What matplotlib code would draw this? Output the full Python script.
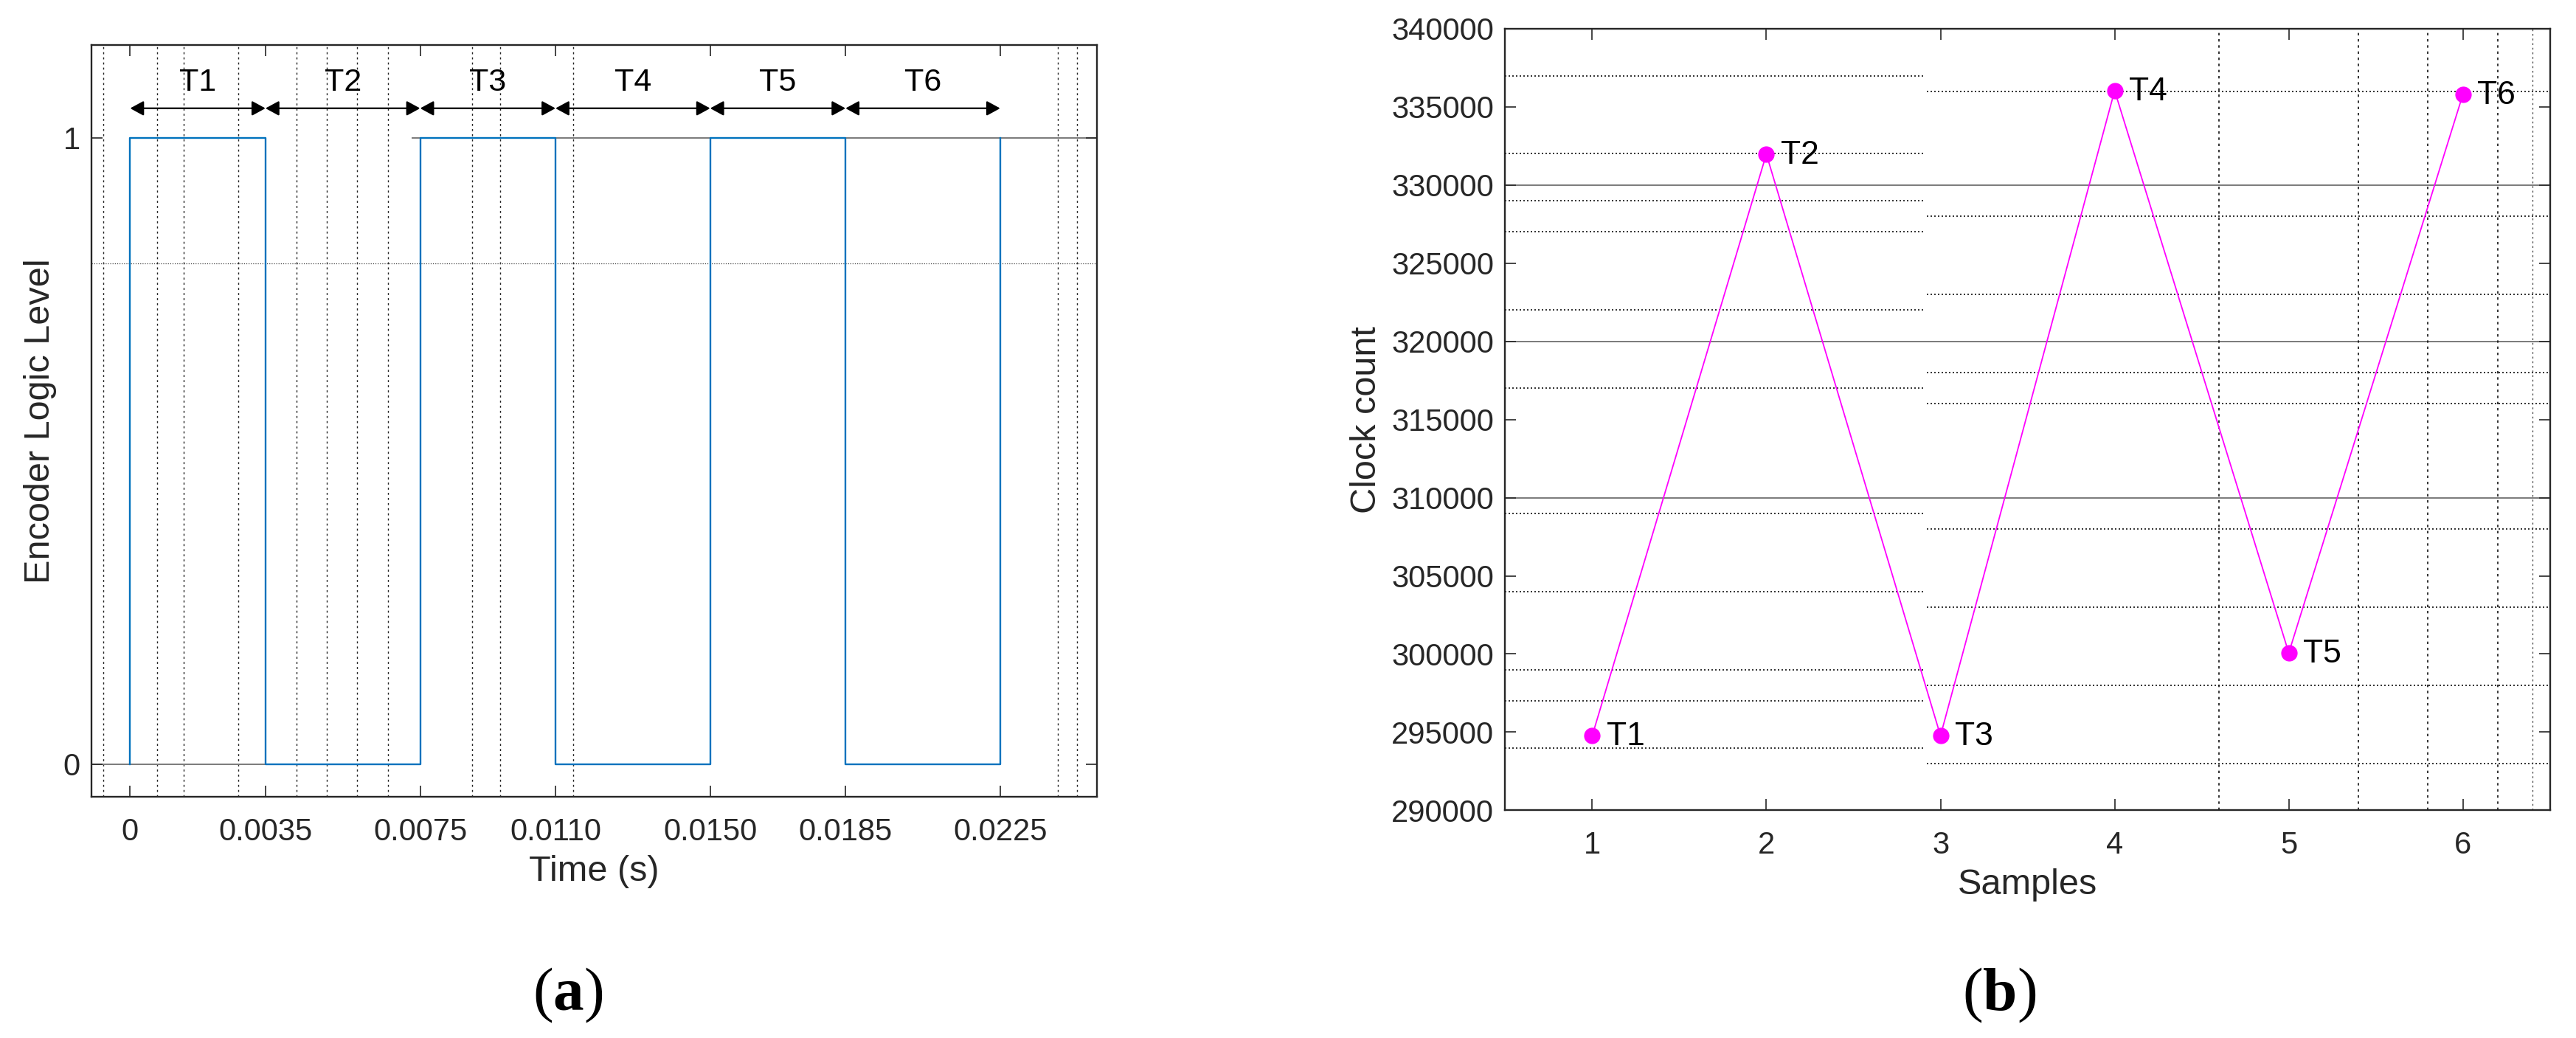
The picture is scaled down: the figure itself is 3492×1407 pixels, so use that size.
import matplotlib
matplotlib.use("Agg")
import matplotlib.pyplot as plt

# ---------------- data ----------------
# Panel (a): encoder square wave
edge_times = [0.0, 0.0035, 0.0075, 0.0110, 0.0150, 0.0185, 0.0225]
wave_t = [0.0, 0.0, 0.0035, 0.0035, 0.0075, 0.0075, 0.0110, 0.0110, 0.0150, 0.0150, 0.0185, 0.0185, 0.0225, 0.0225]
wave_v = [0, 1, 1, 0, 0, 1, 1, 0, 0, 1, 1, 0, 0, 1]
xtick_a = [0.0, 0.0035, 0.0075, 0.0110, 0.0150, 0.0185, 0.0225]
xtick_a_labels = ["0", "0.0035", "0.0075", "0.0110", "0.0150", "0.0185", "0.0225"]
ytick_a = [0, 1]
period_labels = ["T1", "T2", "T3", "T4", "T5", "T6"]
# dotted artefact grid lines visible in the original picture
vgrid_a = [-0.00069, 0.0007, 0.00139, 0.0028, 0.0043, 0.00508, 0.00587, 0.00666,
           0.00885, 0.00956, 0.01146, 0.0240, 0.02448]

# Panel (b): clock counts per sample
samples = [1, 2, 3, 4, 5, 6]
clock_count = [294770, 331980, 294770, 336040, 300070, 335800]
ytick_b = [290000, 295000, 300000, 305000, 310000, 315000, 320000, 325000, 330000, 335000, 340000]
hgrid_b_left = [337000, 332000, 329000, 327000, 322000, 317000, 309000, 304000, 299000, 297000, 294000]
hgrid_b_right = [336000, 328000, 323000, 318000, 316000, 308000, 303000, 298000, 293000]
hgrid_b_full = [330000, 320000, 310000]
vgrid_b = [4.6, 5.4, 5.8, 6.2]
vgrid_b_light = [6.4]

# ---------------- style ----------------
plt.rcParams['font.family'] = ['Liberation Sans', 'DejaVu Sans']
plt.rcParams['mathtext.fontset'] = 'custom'
plt.rcParams['mathtext.bf'] = 'Liberation Serif:bold'
plt.rcParams['mathtext.rm'] = 'Liberation Serif'
AX = '#262626'
BLUE = '#0072BD'
MAG = '#FF00FF'
TICK_FS = 30
LAB_FS = 35

fig = plt.figure(figsize=(34.92, 14.07), dpi=100)
axa = fig.add_axes([0.0355, 0.2324, 0.3903, 0.7242])
axb = fig.add_axes([0.5843, 0.2194, 0.4056, 0.7529])


def style_axes(ax):
    for s in ax.spines.values():
        s.set_color(AX)
        s.set_linewidth(1.7)
    ax.tick_params(direction='in', length=11, width=1.2, color=AX,
                   top=True, right=True, labelsize=TICK_FS, labelcolor=AX)
    ax.tick_params(axis='x', pad=20)
    ax.tick_params(axis='y', pad=11)


# ---------------- panel (a) ----------------
axa.set_xlim(-0.001, 0.025)
axa.set_ylim(-0.052, 1.148)
for xv in vgrid_a:
    axa.axvline(xv, color='#222222', lw=1.0, ls=(0, (2, 3)), zorder=1)
axa.axhline(0.8, color='#444444', lw=0.9, ls=(0, (1, 1.5)), zorder=1)
axa.plot([0.0073, 0.025], [1, 1], color='#7a7a7a', lw=1.4, zorder=1)
axa.plot([-0.001, 0.0035], [0, 0], color='#7a7a7a', lw=1.4, zorder=1)
axa.plot(wave_t, wave_v, color=BLUE, lw=1.7, zorder=3)

arrow_y = 1.047
label_y = 1.088
for i in range(len(edge_times) - 1):
    t0, t1 = edge_times[i], edge_times[i + 1]
    axa.annotate('', xy=(t1, arrow_y), xytext=(t0, arrow_y),
                 arrowprops=dict(arrowstyle='<|-|>,head_length=0.55,head_width=0.3',
                                 color='black', lw=1.7, shrinkA=0, shrinkB=0,
                                 mutation_scale=20), zorder=4)
    axa.text((t0 + t1) / 2, label_y, period_labels[i], ha='center', va='center',
             fontsize=31, color='black', zorder=4)

axa.set_xticks(xtick_a)
axa.set_xticklabels(xtick_a_labels)
axa.set_yticks(ytick_a)
axa.set_xlabel('Time (s)', fontsize=LAB_FS, color=AX, labelpad=8)
axa.set_ylabel('Encoder Logic Level', fontsize=LAB_FS, color=AX, labelpad=6)
style_axes(axa)

# ---------------- panel (b) ----------------
axb.set_xlim(0.5, 6.5)
axb.set_ylim(290000, 340000)
for yv in hgrid_b_left:
    axb.plot([0.5, 2.913], [yv, yv], color='#111111', lw=1.2, ls=(0, (1.2, 1.8)), zorder=1)
for yv in hgrid_b_right:
    axb.plot([2.923, 6.5], [yv, yv], color='#111111', lw=1.2, ls=(0, (1.2, 1.8)), zorder=1)
for yv in hgrid_b_full:
    axb.axhline(yv, color='#7a7a7a', lw=1.4, zorder=1)
for xv in vgrid_b:
    axb.axvline(xv, color='#111111', lw=1.2, ls=(0, (2, 3)), zorder=1)
for xv in vgrid_b_light:
    axb.axvline(xv, color='#444444', lw=0.9, ls=(0, (2, 3)), zorder=1)

axb.plot(samples, clock_count, color=MAG, lw=1.3, marker='o', markersize=15,
         markerfacecolor=MAG, markeredgecolor=MAG, zorder=3)
for i, (sx, sy) in enumerate(zip(samples, clock_count)):
    axb.annotate(period_labels[i], xy=(sx, sy), xytext=(14, -1),
                 textcoords='offset points', ha='left', va='center',
                 fontsize=32, color='black', zorder=4)

axb.set_xticks(samples)
axb.set_yticks(ytick_b)
axb.set_yticklabels([str(v) for v in ytick_b])
axb.set_xlabel('Samples', fontsize=LAB_FS, color=AX, labelpad=8)
axb.set_ylabel('Clock count', fontsize=LAB_FS, color=AX, labelpad=8)
style_axes(axb)

# ---------------- sub-figure labels ----------------
fig.text(0.2205, 0.041, r'($\mathbf{a}$)', ha='center', va='center', fontsize=60,
         family='Liberation Serif', color='black')
fig.text(0.7760, 0.041, r'($\mathbf{b}$)', ha='center', va='center', fontsize=60,
         family='Liberation Serif', color='black')

fig.savefig('out.png', dpi=100)
